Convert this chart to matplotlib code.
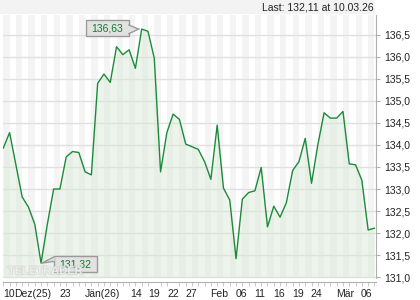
import matplotlib
matplotlib.use("Agg")
import matplotlib.pyplot as plt
import matplotlib.patheffects as pe
from matplotlib.patches import Rectangle, Polygon
from matplotlib.lines import Line2D
from matplotlib.transforms import IdentityTransform
from matplotlib.ticker import FuncFormatter, MultipleLocator

# closing prices, one per trading day (09.12.25 - 10.03.26)
prices = [133.93, 134.28, 133.55, 132.82, 132.59, 132.20, 131.32, 132.20, 133.00, 133.00,
          133.73, 133.85, 133.83, 133.39, 133.32, 135.40, 135.61, 135.42, 136.23, 136.05,
          136.16, 135.74, 136.63, 136.58, 135.97, 133.39, 134.28, 134.70, 134.58, 134.02,
          133.96, 133.90, 133.62, 133.22, 134.45, 133.02, 132.75, 131.42, 132.77, 132.92,
          132.96, 133.49, 132.14, 132.61, 132.36, 132.69, 133.42, 133.62, 134.15, 133.13,
          134.00, 134.73, 134.61, 134.61, 134.76, 133.57, 133.55, 133.20, 132.07, 132.11]

# x tick labels and their positions (trading day index)
tick_pos = [0.85, 4.6, 9.9, 15.8, 21.1, 24.0, 27.0, 29.8, 34.3, 37.9, 40.8, 43.8, 46.8, 49.7, 54.3, 57.7]
tick_labels = ["10", "Dez(25)", "23", "Jän(26)", "14", "19", "22", "27",
               "Feb", "06", "11", "16", "19", "24", "Mär", "06"]

last_text = "Last: 132,11 at 10.03.26"

plt.rcParams['font.family'] = ['Liberation Sans', 'DejaVu Sans']
plt.rcParams['font.size'] = 7.5

green = '#1b8a3a'
x = list(range(len(prices)))

fig = plt.figure(figsize=(4.2, 3.0), dpi=100)
fig.patches.append(Rectangle((0, 1 - 14 / 300), 375 / 420, 14 / 300, transform=fig.transFigure,
                             facecolor='#f3f3f3', edgecolor='none', zorder=0))
fig.text(374 / 420, 1 - 7.5 / 300, last_text, ha='right', va='center', color='#222222')

ax = fig.add_axes([3 / 420, 22 / 300, 373 / 420, 263 / 300])

# alternating day stripes
for k in range(0, len(prices), 2):
    ax.axvspan(k, k + 1, color='#f4f4f4', lw=0, zorder=0)

ax.set_xlim(-0.05, 59.25)
ax.set_ylim(130.98, 136.95)
ax.yaxis.set_major_locator(MultipleLocator(0.5))
ax.grid(axis='y', color='#e0e0e0', lw=1, zorder=1)
ax.set_axisbelow(True)

ax.fill_between(x, prices, 130.98, color='#d8e8d4', alpha=0.45, lw=0, zorder=2)
ax.plot(x, prices, color=green, lw=1.0, zorder=3)

# axes styling
for s in ['top', 'left']:
    ax.spines[s].set_visible(False)
ax.spines['right'].set_color('#b0b0b0')
ax.spines['bottom'].set_color('#b0b0b0')
ax.spines['bottom'].set_position(('outward', 3))
ax.yaxis.tick_right()
ax.yaxis.set_major_formatter(FuncFormatter(lambda v, p: f"{v:.1f}".replace('.', ',')))
ax.tick_params(axis='y', length=3, color='#b0b0b0', pad=3, labelcolor='#222222')

ax.set_xticks(tick_pos)
ax.set_xticklabels(tick_labels)
ax.set_xticks(x, minor=True)
ax.tick_params(axis='x', which='major', length=0, pad=5, labelcolor='#222222')
ax.tick_params(axis='x', which='minor', length=3, color='#c0c0c0')


def price_flag(i, side):
    # grey label box with a pointer to the price point (pixel offsets)
    px, py = ax.transData.transform((i, prices[i]))
    w, h = 43, 16
    if side == 'left':
        cx, cy = px - 34.2, py + 1
        edge = cx + w / 2
        base = [(edge - 1, cy + 3), (edge - 1, cy - 5.5)]
        tip = (px - 3, py)
        b_out = [(edge, cy + 3), (edge, cy - 5.5)]
    else:
        cx, cy = px + 34.2, py - 1.2
        edge = cx - w / 2
        base = [(edge + 1, cy + 7.2), (edge + 1, cy + 2.8)]
        tip = (px + 1, py)
        b_out = [(edge, cy + 7.2), (edge, cy + 2.8)]
    idt = IdentityTransform()
    fig.add_artist(Rectangle((cx - w / 2, cy - h / 2), w, h, transform=idt,
                             fc='#e2e2e2', ec='#9a9a9a', lw=1, zorder=5))
    fig.add_artist(Polygon([base[0], tip, base[1]], closed=True, transform=idt,
                           fc='#e2e2e2', ec='none', zorder=6))
    for b in b_out:
        fig.add_artist(Line2D([b[0], tip[0]], [b[1], tip[1]], transform=idt,
                              color='#9a9a9a', lw=1, zorder=6))
    fig.text(cx / 420, cy / 300, f"{prices[i]:.2f}".replace('.', ','), ha='center', va='center',
             color='#117a2e', zorder=7)


price_flag(prices.index(max(prices)), 'left')
price_flag(prices.index(min(prices)), 'right')

# watermark, faint, drawn over the low flag like in the original
fig.text(8 / 420, 24 / 300, "TELETRADER", fontsize=8, fontweight='bold',
         color='white', alpha=0.5, va='bottom', ha='left', zorder=8,
         path_effects=[pe.withStroke(linewidth=1.2, foreground='#c4c4c4')])

fig.savefig('out.png', dpi=100)
